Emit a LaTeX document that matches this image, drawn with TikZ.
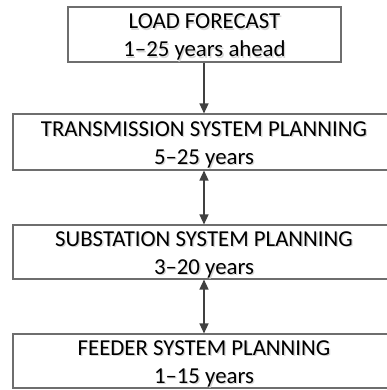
\documentclass[tikz,border=0pt]{standalone}
\usepackage{fontspec}
\setmainfont{Carlito}
\usetikzlibrary{arrows.meta,shadows}
\definecolor{edge}{HTML}{6E6E6E}
\definecolor{link}{HTML}{404040}
\definecolor{glow}{HTML}{D6D6D6}
\tikzset{
  x=1pt,y=1pt,
  box/.style={draw=edge, line width=1.1pt, fill=white, rectangle,
    drop shadow={shadow xshift=1pt, shadow yshift=-1pt, fill=black!30, opacity=1}},
  txt/.style={align=center, font=\fontsize{22.8}{28}\selectfont, text=black, inner sep=0pt},
  link/.style={draw=link, line width=1.4pt, -{Triangle[length=10pt,width=9pt]}},
  biline/.style={draw=link, line width=1.4pt, {Triangle[length=10pt,width=9pt]}-{Triangle[length=10pt,width=9pt]}},
}
% a line of text with a soft grey copy set slightly below and to the right
\newcommand\glowline[1]{\rlap{\hspace{1.3pt}\raisebox{-1.6pt}{\textcolor{glow}{#1}}}#1}
\begin{document}
\begin{tikzpicture}
\useasboundingbox (0,0) rectangle (387,390);
% boxes with their two-line labels
\node[box, minimum width=273, minimum height=55] (b1) at (204.5,355.5) {};
\node[box, minimum width=382, minimum height=56] (b2) at (204,248) {};
\node[box, minimum width=382, minimum height=54] (b3) at (204,138) {};
\node[box, minimum width=382, minimum height=54] (b4) at (204,29) {};
\node[txt] (t1) at ([yshift=-3.5]b1.center) {\glowline{LOAD FORECAST}\\\glowline{1–25 years ahead}};
\node[txt] (t2) at ([yshift=-3.5]b2.center) {\glowline{TRANSMISSION SYSTEM PLANNING}\\\glowline{5–25 years}};
\node[txt] (t3) at ([yshift=-3.5]b3.center) {\glowline{SUBSTATION SYSTEM PLANNING}\\\glowline{3–20 years}};
\node[txt] (t4) at ([yshift=-3.5]b4.center) {\glowline{FEEDER SYSTEM PLANNING}\\\glowline{1–15 years}};
% connectors
\draw[link] (b1.south -| 204,0) -- (b2.north -| 204,0);
\draw[biline] (b2.south -| 204,0) -- (b3.north -| 204,0);
\draw[biline] (b3.south -| 204,0) -- (b4.north -| 204,0);
\end{tikzpicture}
\end{document}
